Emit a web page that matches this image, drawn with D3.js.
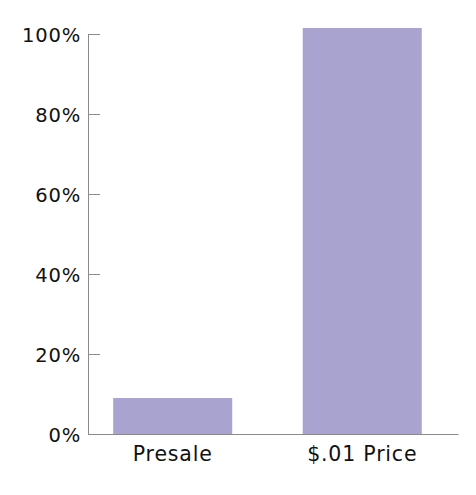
<!DOCTYPE html>
<html>
<head>
<meta charset="utf-8">
<script src="https://cdn.jsdelivr.net/npm/d3@7"></script>
<style>
  body { margin: 0; background: #fff; }
  svg { display: block; }
</style>
</head>
<body>
<div id="chart"></div>
<script>
// values
const categories = ["Presale", "$.01 Price"];
const values = [9, 101.5];
const yTicks = [0, 20, 40, 60, 80, 100];

const svgWidth = 476;
const svgHeight = 495;

const svg = d3.select("#chart")
  .append("svg")
  .attr("width", svgWidth)
  .attr("height", svgHeight);

// scales
const xScale = d3.scaleBand()
  .domain(categories)
  .range([88, 458])
  .paddingInner(0.372)
  .paddingOuter(0.162)
  .align(0.41);

const yScale = d3.scaleLinear()
  .domain([0, 100])
  .range([434, 34]);

// bars
svg.selectAll(".bar")
  .data(categories)
  .enter()
  .append("rect")
  .attr("class", "bar")
  .attr("fill", "#a8a3cf")
  .attr("x", d => xScale(d))
  .attr("y", (d, i) => yScale(values[i]))
  .attr("width", xScale.bandwidth())
  .attr("height", (d, i) => yScale(0) - yScale(values[i]));

// y axis, ticks pointing inward
const yAxis = svg.append("g")
  .attr("transform", "translate(88,0)")
  .call(d3.axisLeft(yScale)
    .tickValues(yTicks)
    .tickFormat(d => d + "%")
    .tickSize(-12)
    .tickSizeOuter(0)
    .tickPadding(7));

yAxis.selectAll("path, line").attr("stroke", "#8a8a8a");
yAxis.selectAll("text")
  .attr("fill", "#111")
  .attr("font-family", "DejaVu Sans")
  .attr("font-size", 19.5)
  .attr("letter-spacing", "0.8px")
  .attr("dy", "0.36em");

// x axis
const xAxis = svg.append("g")
  .attr("transform", "translate(0,434)")
  .call(d3.axisBottom(xScale)
    .tickSize(0)
    .tickSizeOuter(0));

xAxis.select(".domain").attr("stroke", "#8a8a8a");
xAxis.selectAll("text")
  .attr("fill", "#111")
  .attr("font-family", "DejaVu Sans")
  .attr("font-size", 20.5)
  .attr("letter-spacing", "0.8px")
  .attr("y", 27)
  .attr("dy", 0);
</script>
</body>
</html>
